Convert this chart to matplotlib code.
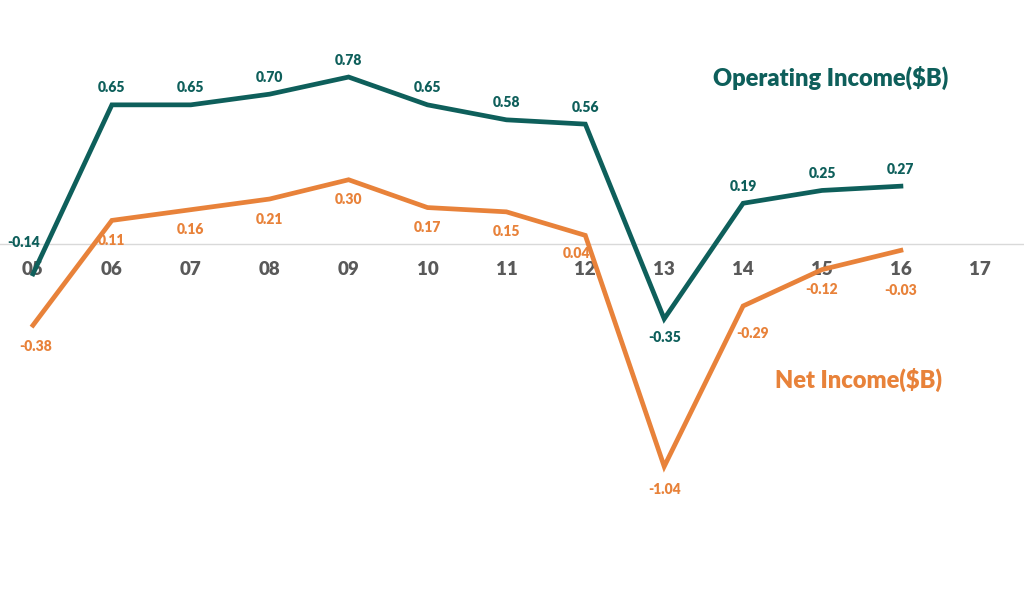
import matplotlib
matplotlib.use("Agg")
import matplotlib.pyplot as plt

plt.rcParams['font.family'] = ['Lato', 'DejaVu Sans']

years = ["05", "06", "07", "08", "09", "10", "11", "12", "13", "14", "15", "16", "17"]
operating = [-0.14, 0.65, 0.65, 0.70, 0.78, 0.65, 0.58, 0.56, -0.35, 0.19, 0.25, 0.27]
net = [-0.38, 0.11, 0.16, 0.21, 0.30, 0.17, 0.15, 0.04, -1.04, -0.29, -0.12, -0.03]

teal = "#0e5f5b"
orange = "#e8823a"

fig = plt.figure(figsize=(10.24, 6.03), dpi=100)
ax = fig.add_axes([0, 0, 1, 1])
ax.set_xlim(-0.418, 12.56)
ax.set_ylim(-1.678, 1.140)
ax.axis("off")

ax.axhline(0, color="#d9d9d9", lw=1.0, zorder=1)

x_op = list(range(len(operating)))
x_net = list(range(len(net)))
ax.plot(x_op, operating, color=teal, lw=3.4, solid_joinstyle="miter", zorder=3)
ax.plot(x_net, net, color=orange, lw=3.4, solid_joinstyle="miter", zorder=3)

# tick labels
for i, y in enumerate(years):
    ax.annotate(y, (i, 0), xytext=(0, -26), textcoords="offset pixels",
                ha="center", va="center", fontsize=13.5, fontweight="heavy", color="#595959", zorder=2)

# data labels operating
for i, v in enumerate(operating):
    dx, dy = 0, 17
    if i == 0:
        dx, dy = -9, 31
    elif v < 0:
        dy = -19
    ax.annotate(f"{v:.2f}", (i, v), xytext=(dx, dy), textcoords="offset pixels",
                ha="center", va="center", fontsize=10, fontweight="heavy", color=teal, zorder=4)

for i, v in enumerate(net):
    dx, dy = 0, -20
    if i == 0:
        dx, dy = 3, -21
    elif i == 7:
        dx, dy = -9, -18
    elif i == 9:
        dx, dy = 9, -28
    elif i == 11:
        dx, dy = 0, -40
    elif v < -1:
        dy = -23
    ax.annotate(f"{v:.2f}", (i, v), xytext=(dx, dy), textcoords="offset pixels",
                ha="center", va="center", fontsize=10, fontweight="heavy", color=orange, zorder=4)

ax.text(713 / 1024, 1 - 78 / 603, "Operating Income($B)", transform=fig.transFigure,
        ha="left", va="center", fontsize=17, fontweight="heavy", color=teal)
ax.text(775 / 1024, 1 - 380 / 603, "Net Income($B)", transform=fig.transFigure,
        ha="left", va="center", fontsize=17, fontweight="heavy", color=orange)

fig.savefig("out.png", dpi=100, facecolor="white")
